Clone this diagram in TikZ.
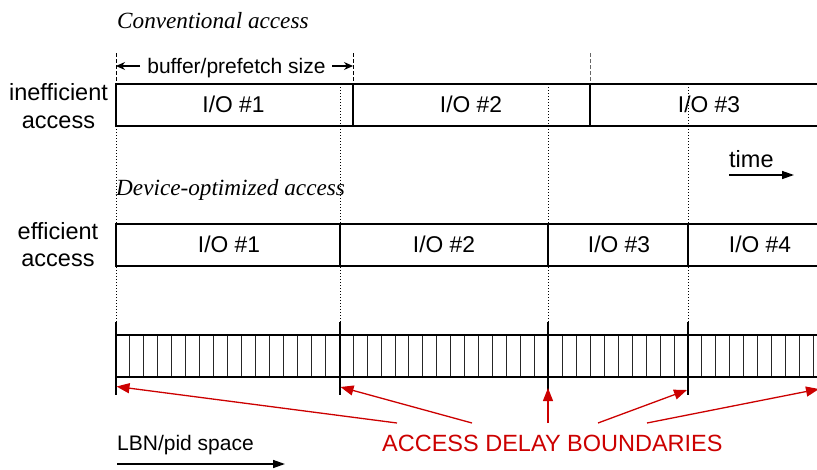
\documentclass[tikz,border=0pt]{standalone}
\usepackage{fontspec}
\setmainfont{Liberation Sans}
\newfontfamily\headfont{Liberation Serif}
\usetikzlibrary{arrows.meta}
\definecolor{bdred}{RGB}{204,0,0}
\tikzset{
  lbl/.style={font=\fontsize{23.5}{27}\selectfont, inner sep=0pt, anchor=base},
  iolbl/.style={font=\fontsize{22.8}{26}\selectfont, inner sep=0pt, anchor=base},
  head/.style={font=\headfont\itshape\fontsize{23.2}{27}\selectfont, inner sep=0pt, anchor=base west},
  frame/.style={line width=1.5pt},
  guide/.style={line width=1pt, dash pattern=on 1pt off 2pt},
  sizemark/.style={line width=0.9pt, dash pattern=on 4pt off 2pt},
  tickline/.style={line width=0.95pt, black!85},
  bound/.style={line width=2.6pt},
  redarrow/.style={bdred, line width=1.3pt, -{Triangle[length=13pt,width=10pt]}},
  axisarrow/.style={line width=1.4pt, -{Triangle[length=12pt,width=8pt]}},
  sizearrow/.style={line width=1.2pt, -{Stealth[length=9pt,width=8pt]}}
}
\begin{document}
\begin{tikzpicture}[x=1pt,y=-1pt]
\useasboundingbox (0,0) rectangle (817,469);

% headings
\node[head] (conv) at (117,28) {Conventional access};
\node[head] (devopt) at (116,195) {Device-optimized access};

% dotted guides at the device-optimized boundaries
\foreach \gx in {116,340,548,688}
  \draw[guide] (\gx,84) -- (\gx,322);

% buffer/prefetch size markers
\draw[sizemark] (116,53) -- (116,84);
\draw[sizemark] (353,53) -- (353,84);
\draw[sizemark, black!60] (590,53) -- (590,84);
\coordinate (szL) at (116,66);
\coordinate (szR) at (353,66);
\coordinate (szLt) at (140,66);
\coordinate (szRt) at (332,66);
\draw[sizearrow] (szLt) -- (szL);
\draw[sizearrow] (szRt) -- (szR);
\node[font=\fontsize{21}{24}\selectfont, inner sep=0pt, anchor=base] (bufsize) at (236.5,73) {buffer/prefetch size};

% inefficient access row
\node[lbl] (ineffA) at (58.5,100) {inefficient};
\node[lbl] (ineffB) at (58.5,128) {access};
\draw[frame] (818,84) -- (116,84) -- (116,126) -- (818,126);
\draw[frame] (353,84) -- (353,126);
\draw[frame] (590,84) -- (590,126);
\node[iolbl] (cio1) at (233.5,112.5) {I/O \#1};
\node[iolbl] (cio2) at (471,112.5) {I/O \#2};
\node[iolbl] (cio3) at (709,112.5) {I/O \#3};

% time axis
\node[lbl, anchor=base west] (time) at (729,167) {time};
\coordinate (tA) at (729,175);
\coordinate (tB) at (794,175);
\draw[axisarrow] (tA) -- (tB);

% efficient access row
\node[lbl] (effA) at (58,239) {efficient};
\node[lbl] (effB) at (58,266) {access};
\draw[frame] (818,224) -- (116,224) -- (116,266) -- (818,266);
\foreach \bx in {340,548,688}
  \draw[frame] (\bx,224) -- (\bx,266);
\node[iolbl] (dio1) at (229,252.5) {I/O \#1};
\node[iolbl] (dio2) at (444,252.5) {I/O \#2};
\node[iolbl] (dio3) at (619,252.5) {I/O \#3};
\node[iolbl] (dio4) at (760,252.5) {I/O \#4};

% LBN/pid space bar
\foreach \k in {1,...,50}
  \draw[tickline] ({116+13.95*\k},335) -- ({116+13.95*\k},377);
\draw[frame] (818,335) -- (116,335);
\draw[frame] (818,377) -- (116,377);
\foreach \bx in {116,340,548,688}
  \draw[bound] (\bx,322) -- (\bx,395);

% access delay boundaries
\node[font=\fontsize{23.5}{28}\selectfont, text=bdred, inner sep=0pt, anchor=base west] (adb) at (382,451) {ACCESS DELAY BOUNDARIES};
\coordinate (b1) at (116.5,386.5);
\coordinate (b2) at (340.5,387);
\coordinate (b3) at (548,388);
\coordinate (b4) at (687,390);
\coordinate (b5) at (819,389);
\coordinate (s1) at (397,423);
\coordinate (s2) at (472,423);
\coordinate (s3) at (548,423);
\coordinate (s4) at (598,423);
\coordinate (s5) at (647,423);
\draw[redarrow] (s1) -- (b1);
\draw[redarrow] (s2) -- (b2);
\draw[redarrow] (s3) -- (b3);
\draw[redarrow] (s4) -- (b4);
\draw[redarrow] (s5) -- (b5);

% LBN/pid space axis
\node[font=\fontsize{21}{25}\selectfont, inner sep=0pt, anchor=base west] (lbn) at (117,450) {LBN/pid space};
\coordinate (lA) at (117,464);
\coordinate (lB) at (285,464);
\draw[axisarrow] (lA) -- (lB);
\end{tikzpicture}
\end{document}
